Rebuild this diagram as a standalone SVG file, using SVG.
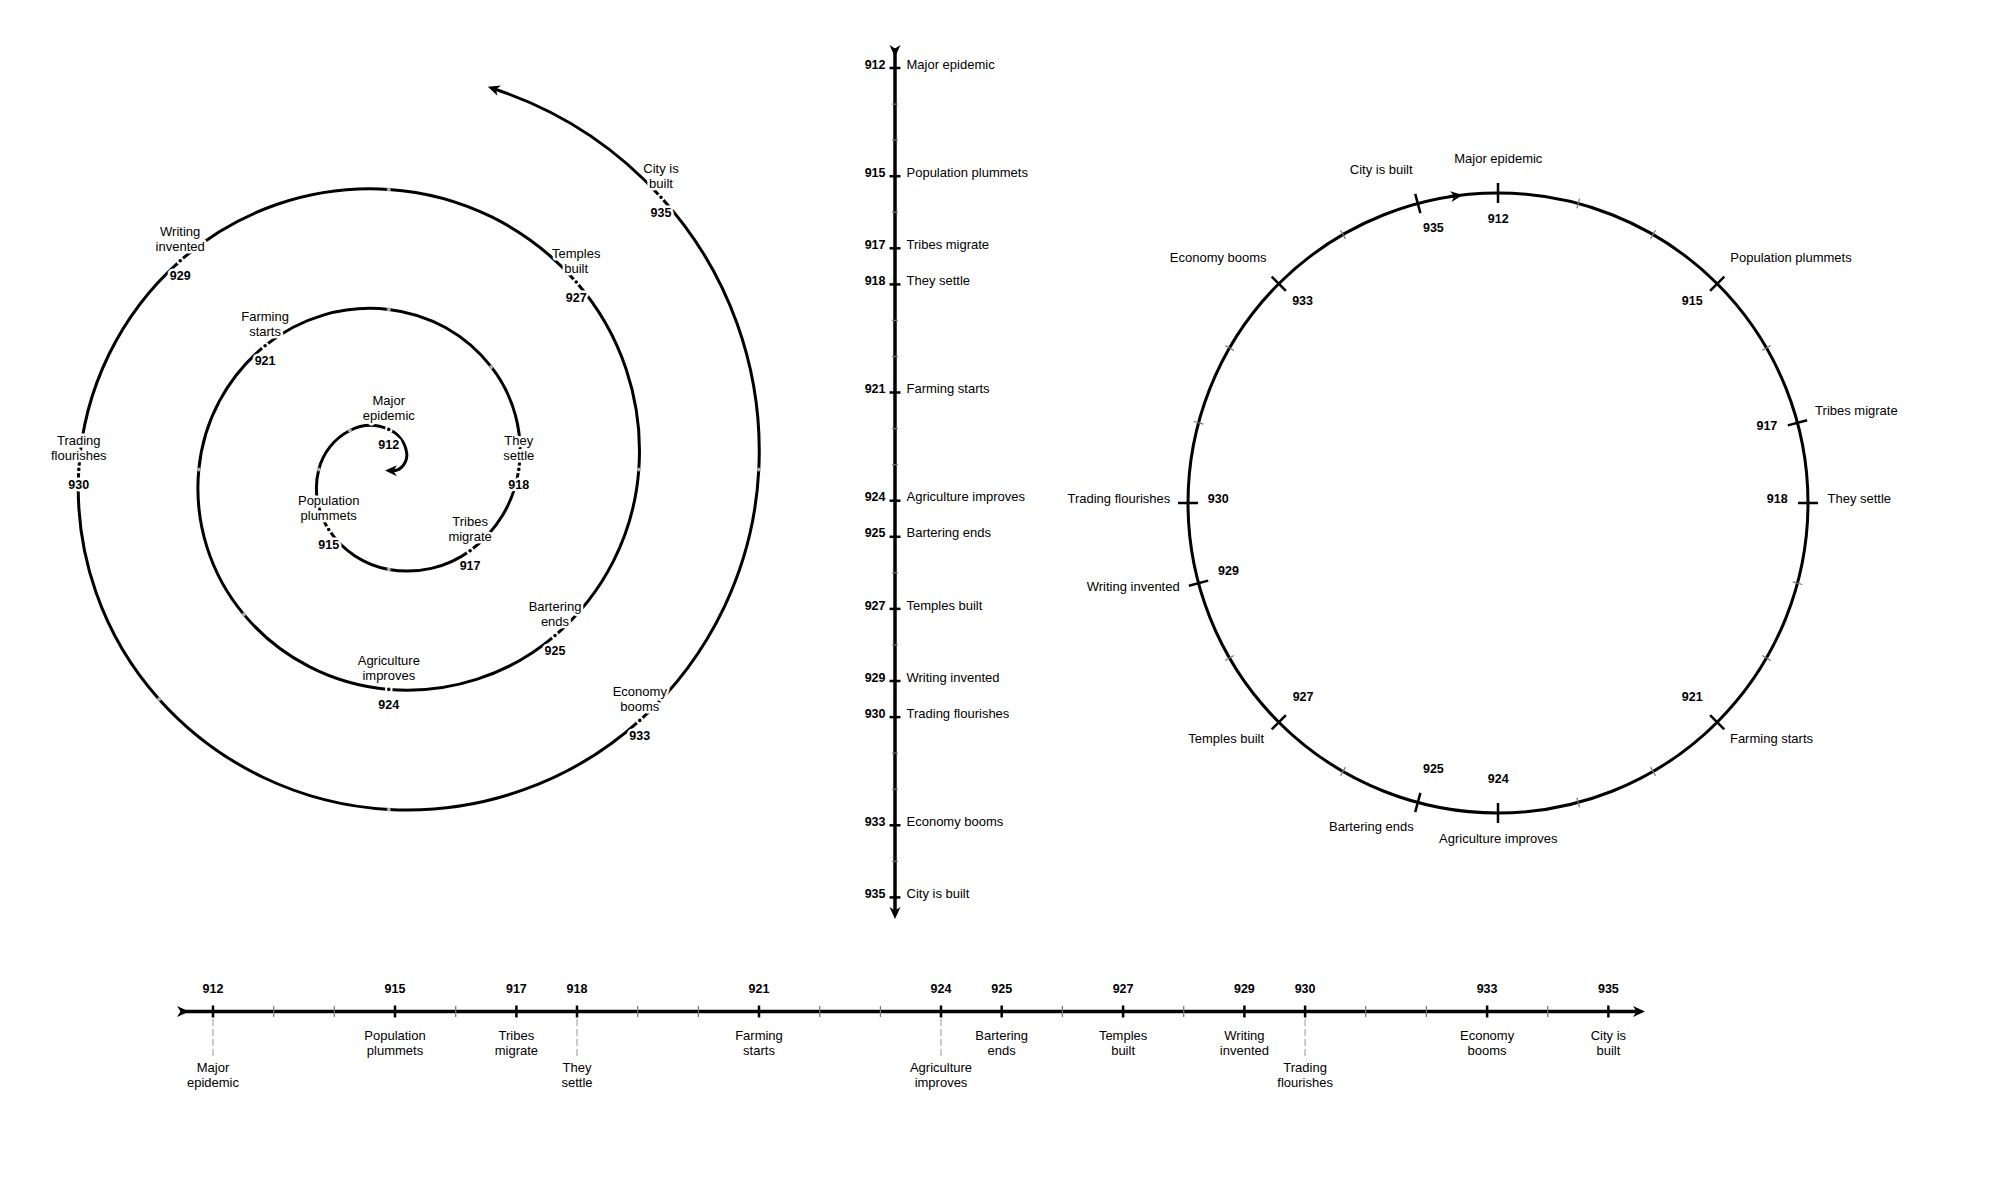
<svg xmlns="http://www.w3.org/2000/svg" width="2000" height="1200" viewBox="0 0 2000 1200">
<defs>
<style>
text { font-family: "Liberation Sans", Arial, Helvetica, sans-serif; fill: #000; }
.ev { font-size: 13px; }
.yr { font-size: 12.5px; font-weight: bold; }
.mid { text-anchor: middle; }
.end { text-anchor: end; }
.halo { paint-order: stroke; stroke: #fff; stroke-width: 5px; stroke-linejoin: round; }
.axis { fill: none; stroke: #000; stroke-width: 3.5; }
.line { fill: none; stroke: #000; stroke-width: 3; }
.major { stroke: #000; stroke-width: 2.5; }
.minor { stroke: #777; stroke-width: 1.2; }
.dash { stroke: #bbb; stroke-width: 1.5; stroke-dasharray: 7 3; }
.dot { fill: #000; stroke: #fff; stroke-width: 2; }
.mdot { fill: #aaa; }
</style>
<marker id="head" viewBox="0 0 12 12" refX="3.5" refY="6" markerWidth="12" markerHeight="12" markerUnits="userSpaceOnUse" orient="auto"><path d="M0,0.5 L12,6 L0,11.5 L3.5,6 z" fill="#000"/></marker>
<marker id="headrev" viewBox="0 0 12 12" refX="8.5" refY="6" markerWidth="12" markerHeight="12" markerUnits="userSpaceOnUse" orient="auto"><path d="M12,0.5 L0,6 L12,11.5 L8.5,6 z" fill="#000"/></marker>
</defs>
<rect width="2000" height="1200" fill="#fff"/>

<g id="connectors">
<path id="spiral-line" class="line" marker-start="url(#headrev)" marker-end="url(#head)" d="M393.4,470.7 A11,11 0 0 0 398.8,469.4 A16.8,16.8 0 0 0 406.5,451.7 A30,30 0 0 0 388.8,429.4 A45,45 0 0 0 349.9,430.5 A60.2,60.2 0 0 0 318.8,469.4 A75.5,75.5 0 0 0 328.7,529.5 A90.5,90.5 0 0 0 388.8,569.4 A105.8,105.8 0 0 0 470.1,550.7 A121,121 0 0 0 518.8,469.4 A136.2,136.2 0 0 0 491.3,366.9 A151.3,151.3 0 0 0 388.8,309.4 A166.4,166.4 0 0 0 265.1,345.7 A181.5,181.5 0 0 0 198.8,469.4 A196.6,196.6 0 0 0 243.8,614.4 A211.6,211.6 0 0 0 388.8,689.4 A226.7,226.7 0 0 0 555.0,635.6 A241.8,241.8 0 0 0 638.8,469.4 A256.8,256.8 0 0 0 576.2,282.0 A271.8,271.8 0 0 0 388.8,189.4 A286.9,286.9 0 0 0 180.2,260.8 A301.9,301.9 0 0 0 78.8,469.4 A316.9,316.9 0 0 0 159.0,699.2 A332,332 0 0 0 388.8,809.4 A347,347 0 0 0 639.8,720.4 A362,362 0 0 0 758.8,469.4 A377,377 0 0 0 661.0,197.2 A389.4,389.4 0 0 0 495.9,89.5"/>
<path id="vertical-axis" class="axis" marker-start="url(#head)" marker-end="url(#head)" d="M895,48.5 L895,910.5"/>
<path id="horizontal-axis" class="axis" marker-start="url(#head)" marker-end="url(#head)" d="M180.5,1011.5 L1636.5,1011.5"/>
<circle id="circle-line" class="line" cx="1498" cy="503" r="310"/>
<path id="circle-arrow" class="line" marker-end="url(#head)" d="M1449.5,196.8 A310,310 0 0 1 1454.3,196.1"/>
</g>

<g id="spiral-minor">
<circle class="mdot" cx="349.9" cy="430.5" r="2"/>
<circle class="mdot" cx="318.8" cy="469.4" r="2"/>
<circle class="mdot" cx="388.8" cy="569.4" r="2"/>
<circle class="mdot" cx="491.3" cy="366.9" r="2"/>
<circle class="mdot" cx="388.8" cy="309.4" r="2"/>
<circle class="mdot" cx="198.8" cy="469.4" r="2"/>
<circle class="mdot" cx="243.8" cy="614.4" r="2"/>
<circle class="mdot" cx="638.8" cy="469.4" r="2"/>
<circle class="mdot" cx="388.8" cy="189.4" r="2"/>
<circle class="mdot" cx="159.0" cy="699.2" r="2"/>
<circle class="mdot" cx="388.8" cy="809.4" r="2"/>
<circle class="mdot" cx="758.8" cy="469.4" r="2"/>
</g>

<g id="spiral-events">
<g id="spiral-912"><circle class="dot" cx="388.8" cy="429.4" r="2.8"/><text class="ev mid halo" x="388.8" y="404.9">Major</text><text class="ev mid halo" x="388.8" y="419.9">epidemic</text><text class="yr mid halo" x="388.8" y="448.9">912</text></g>
<g id="spiral-915"><circle class="dot" cx="328.7" cy="529.5" r="2.8"/><text class="ev mid halo" x="328.7" y="505">Population</text><text class="ev mid halo" x="328.7" y="520">plummets</text><text class="yr mid halo" x="328.7" y="549">915</text></g>
<g id="spiral-917"><circle class="dot" cx="470.1" cy="550.7" r="2.8"/><text class="ev mid halo" x="470.1" y="526.2">Tribes</text><text class="ev mid halo" x="470.1" y="541.2">migrate</text><text class="yr mid halo" x="470.1" y="570.2">917</text></g>
<g id="spiral-918"><circle class="dot" cx="518.8" cy="469.4" r="2.8"/><text class="ev mid halo" x="518.8" y="444.9">They</text><text class="ev mid halo" x="518.8" y="459.9">settle</text><text class="yr mid halo" x="518.8" y="488.9">918</text></g>
<g id="spiral-921"><circle class="dot" cx="265.1" cy="345.7" r="2.8"/><text class="ev mid halo" x="265.1" y="321.2">Farming</text><text class="ev mid halo" x="265.1" y="336.2">starts</text><text class="yr mid halo" x="265.1" y="365.2">921</text></g>
<g id="spiral-924"><circle class="dot" cx="388.8" cy="689.4" r="2.8"/><text class="ev mid halo" x="388.8" y="664.9">Agriculture</text><text class="ev mid halo" x="388.8" y="679.9">improves</text><text class="yr mid halo" x="388.8" y="708.9">924</text></g>
<g id="spiral-925"><circle class="dot" cx="555.0" cy="635.6" r="2.8"/><text class="ev mid halo" x="555.0" y="611.1">Bartering</text><text class="ev mid halo" x="555.0" y="626.1">ends</text><text class="yr mid halo" x="555.0" y="655.1">925</text></g>
<g id="spiral-927"><circle class="dot" cx="576.2" cy="282.0" r="2.8"/><text class="ev mid halo" x="576.2" y="257.5">Temples</text><text class="ev mid halo" x="576.2" y="272.5">built</text><text class="yr mid halo" x="576.2" y="301.5">927</text></g>
<g id="spiral-929"><circle class="dot" cx="180.2" cy="260.8" r="2.8"/><text class="ev mid halo" x="180.2" y="236.3">Writing</text><text class="ev mid halo" x="180.2" y="251.3">invented</text><text class="yr mid halo" x="180.2" y="280.3">929</text></g>
<g id="spiral-930"><circle class="dot" cx="78.8" cy="469.4" r="2.8"/><text class="ev mid halo" x="78.8" y="444.9">Trading</text><text class="ev mid halo" x="78.8" y="459.9">flourishes</text><text class="yr mid halo" x="78.8" y="488.9">930</text></g>
<g id="spiral-933"><circle class="dot" cx="639.8" cy="720.4" r="2.8"/><text class="ev mid halo" x="639.8" y="695.9">Economy</text><text class="ev mid halo" x="639.8" y="710.9">booms</text><text class="yr mid halo" x="639.8" y="739.9">933</text></g>
<g id="spiral-935"><circle class="dot" cx="661.0" cy="197.2" r="2.8"/><text class="ev mid halo" x="661.0" y="172.7">City is</text><text class="ev mid halo" x="661.0" y="187.7">built</text><text class="yr mid halo" x="661.0" y="216.7">935</text></g>
</g>

<g id="vertical-minor">
<line class="minor" x1="892" y1="104.1" x2="898" y2="104.1"/>
<line class="minor" x1="892" y1="140.1" x2="898" y2="140.1"/>
<line class="minor" x1="892" y1="212.2" x2="898" y2="212.2"/>
<line class="minor" x1="892" y1="320.4" x2="898" y2="320.4"/>
<line class="minor" x1="892" y1="356.5" x2="898" y2="356.5"/>
<line class="minor" x1="892" y1="428.6" x2="898" y2="428.6"/>
<line class="minor" x1="892" y1="464.7" x2="898" y2="464.7"/>
<line class="minor" x1="892" y1="572.8" x2="898" y2="572.8"/>
<line class="minor" x1="892" y1="645.0" x2="898" y2="645.0"/>
<line class="minor" x1="892" y1="753.1" x2="898" y2="753.1"/>
<line class="minor" x1="892" y1="789.2" x2="898" y2="789.2"/>
<line class="minor" x1="892" y1="861.3" x2="898" y2="861.3"/>
</g>
<g id="vertical-events">
<g id="v-912"><line class="major" x1="889.5" y1="68.0" x2="900.5" y2="68.0"/><text class="yr end" x="885.5" y="68.6">912</text><text class="ev" x="906.5" y="68.6">Major epidemic</text></g>
<g id="v-915"><line class="major" x1="889.5" y1="176.2" x2="900.5" y2="176.2"/><text class="yr end" x="885.5" y="176.8">915</text><text class="ev" x="906.5" y="176.8">Population plummets</text></g>
<g id="v-917"><line class="major" x1="889.5" y1="248.3" x2="900.5" y2="248.3"/><text class="yr end" x="885.5" y="248.9">917</text><text class="ev" x="906.5" y="248.9">Tribes migrate</text></g>
<g id="v-918"><line class="major" x1="889.5" y1="284.4" x2="900.5" y2="284.4"/><text class="yr end" x="885.5" y="285">918</text><text class="ev" x="906.5" y="285">They settle</text></g>
<g id="v-921"><line class="major" x1="889.5" y1="392.5" x2="900.5" y2="392.5"/><text class="yr end" x="885.5" y="393.1">921</text><text class="ev" x="906.5" y="393.1">Farming starts</text></g>
<g id="v-924"><line class="major" x1="889.5" y1="500.7" x2="900.5" y2="500.7"/><text class="yr end" x="885.5" y="501.3">924</text><text class="ev" x="906.5" y="501.3">Agriculture improves</text></g>
<g id="v-925"><line class="major" x1="889.5" y1="536.8" x2="900.5" y2="536.8"/><text class="yr end" x="885.5" y="537.4">925</text><text class="ev" x="906.5" y="537.4">Bartering ends</text></g>
<g id="v-927"><line class="major" x1="889.5" y1="608.9" x2="900.5" y2="608.9"/><text class="yr end" x="885.5" y="609.5">927</text><text class="ev" x="906.5" y="609.5">Temples built</text></g>
<g id="v-929"><line class="major" x1="889.5" y1="681.0" x2="900.5" y2="681.0"/><text class="yr end" x="885.5" y="681.6">929</text><text class="ev" x="906.5" y="681.6">Writing invented</text></g>
<g id="v-930"><line class="major" x1="889.5" y1="717.1" x2="900.5" y2="717.1"/><text class="yr end" x="885.5" y="717.7">930</text><text class="ev" x="906.5" y="717.7">Trading flourishes</text></g>
<g id="v-933"><line class="major" x1="889.5" y1="825.3" x2="900.5" y2="825.3"/><text class="yr end" x="885.5" y="825.9">933</text><text class="ev" x="906.5" y="825.9">Economy booms</text></g>
<g id="v-935"><line class="major" x1="889.5" y1="897.4" x2="900.5" y2="897.4"/><text class="yr end" x="885.5" y="898">935</text><text class="ev" x="906.5" y="898">City is built</text></g>
</g>

<g id="horizontal-minor">
<line class="minor" x1="273.7" y1="1006" x2="273.7" y2="1017"/>
<line class="minor" x1="334.3" y1="1006" x2="334.3" y2="1017"/>
<line class="minor" x1="455.7" y1="1006" x2="455.7" y2="1017"/>
<line class="minor" x1="637.7" y1="1006" x2="637.7" y2="1017"/>
<line class="minor" x1="698.4" y1="1006" x2="698.4" y2="1017"/>
<line class="minor" x1="819.7" y1="1006" x2="819.7" y2="1017"/>
<line class="minor" x1="880.4" y1="1006" x2="880.4" y2="1017"/>
<line class="minor" x1="1062.4" y1="1006" x2="1062.4" y2="1017"/>
<line class="minor" x1="1183.7" y1="1006" x2="1183.7" y2="1017"/>
<line class="minor" x1="1365.7" y1="1006" x2="1365.7" y2="1017"/>
<line class="minor" x1="1426.4" y1="1006" x2="1426.4" y2="1017"/>
<line class="minor" x1="1547.7" y1="1006" x2="1547.7" y2="1017"/>
</g>
<g id="horizontal-events">
<g id="h-912"><line class="major" x1="213.0" y1="1005.5" x2="213.0" y2="1017.5"/><line class="dash" x1="213.0" y1="1019" x2="213.0" y2="1056"/><text class="yr mid" x="213.0" y="992.8">912</text><text class="ev mid" x="213.0" y="1071.5">Major</text><text class="ev mid" x="213.0" y="1086.5">epidemic</text></g>
<g id="h-915"><line class="major" x1="395.0" y1="1005.5" x2="395.0" y2="1017.5"/><text class="yr mid" x="395.0" y="992.8">915</text><text class="ev mid" x="395.0" y="1039.5">Population</text><text class="ev mid" x="395.0" y="1054.5">plummets</text></g>
<g id="h-917"><line class="major" x1="516.4" y1="1005.5" x2="516.4" y2="1017.5"/><text class="yr mid" x="516.4" y="992.8">917</text><text class="ev mid" x="516.4" y="1039.5">Tribes</text><text class="ev mid" x="516.4" y="1054.5">migrate</text></g>
<g id="h-918"><line class="major" x1="577.0" y1="1005.5" x2="577.0" y2="1017.5"/><line class="dash" x1="577.0" y1="1019" x2="577.0" y2="1056"/><text class="yr mid" x="577.0" y="992.8">918</text><text class="ev mid" x="577.0" y="1071.5">They</text><text class="ev mid" x="577.0" y="1086.5">settle</text></g>
<g id="h-921"><line class="major" x1="759.0" y1="1005.5" x2="759.0" y2="1017.5"/><text class="yr mid" x="759.0" y="992.8">921</text><text class="ev mid" x="759.0" y="1039.5">Farming</text><text class="ev mid" x="759.0" y="1054.5">starts</text></g>
<g id="h-924"><line class="major" x1="941.0" y1="1005.5" x2="941.0" y2="1017.5"/><line class="dash" x1="941.0" y1="1019" x2="941.0" y2="1056"/><text class="yr mid" x="941.0" y="992.8">924</text><text class="ev mid" x="941.0" y="1071.5">Agriculture</text><text class="ev mid" x="941.0" y="1086.5">improves</text></g>
<g id="h-925"><line class="major" x1="1001.7" y1="1005.5" x2="1001.7" y2="1017.5"/><text class="yr mid" x="1001.7" y="992.8">925</text><text class="ev mid" x="1001.7" y="1039.5">Bartering</text><text class="ev mid" x="1001.7" y="1054.5">ends</text></g>
<g id="h-927"><line class="major" x1="1123.1" y1="1005.5" x2="1123.1" y2="1017.5"/><text class="yr mid" x="1123.1" y="992.8">927</text><text class="ev mid" x="1123.1" y="1039.5">Temples</text><text class="ev mid" x="1123.1" y="1054.5">built</text></g>
<g id="h-929"><line class="major" x1="1244.4" y1="1005.5" x2="1244.4" y2="1017.5"/><text class="yr mid" x="1244.4" y="992.8">929</text><text class="ev mid" x="1244.4" y="1039.5">Writing</text><text class="ev mid" x="1244.4" y="1054.5">invented</text></g>
<g id="h-930"><line class="major" x1="1305.1" y1="1005.5" x2="1305.1" y2="1017.5"/><line class="dash" x1="1305.1" y1="1019" x2="1305.1" y2="1056"/><text class="yr mid" x="1305.1" y="992.8">930</text><text class="ev mid" x="1305.1" y="1071.5">Trading</text><text class="ev mid" x="1305.1" y="1086.5">flourishes</text></g>
<g id="h-933"><line class="major" x1="1487.1" y1="1005.5" x2="1487.1" y2="1017.5"/><text class="yr mid" x="1487.1" y="992.8">933</text><text class="ev mid" x="1487.1" y="1039.5">Economy</text><text class="ev mid" x="1487.1" y="1054.5">booms</text></g>
<g id="h-935"><line class="major" x1="1608.4" y1="1005.5" x2="1608.4" y2="1017.5"/><text class="yr mid" x="1608.4" y="992.8">935</text><text class="ev mid" x="1608.4" y="1039.5">City is</text><text class="ev mid" x="1608.4" y="1054.5">built</text></g>
</g>

<g id="circle-minor">
<line class="minor" x1="1576.9" y1="208.4" x2="1579.5" y2="198.7"/>
<line class="minor" x1="1650.5" y1="238.9" x2="1655.5" y2="230.2"/>
<line class="minor" x1="1762.1" y1="350.5" x2="1770.8" y2="345.5"/>
<line class="minor" x1="1792.6" y1="581.9" x2="1802.3" y2="584.5"/>
<line class="minor" x1="1762.1" y1="655.5" x2="1770.8" y2="660.5"/>
<line class="minor" x1="1650.5" y1="767.1" x2="1655.5" y2="775.8"/>
<line class="minor" x1="1576.9" y1="797.6" x2="1579.5" y2="807.3"/>
<line class="minor" x1="1345.5" y1="767.1" x2="1340.5" y2="775.8"/>
<line class="minor" x1="1233.9" y1="655.5" x2="1225.2" y2="660.5"/>
<line class="minor" x1="1203.4" y1="424.1" x2="1193.7" y2="421.5"/>
<line class="minor" x1="1233.9" y1="350.5" x2="1225.2" y2="345.5"/>
<line class="minor" x1="1345.5" y1="238.9" x2="1340.5" y2="230.2"/>
</g>
<g id="circle-events">
<g id="c-912"><line class="major" x1="1498" y1="203" x2="1498" y2="183"/><text class="yr mid" x="1498.3" y="223">912</text><text class="ev mid" x="1498.3" y="163.4">Major epidemic</text></g>
<g id="c-915"><line class="major" x1="1710.1" y1="290.9" x2="1724.3" y2="276.7"/><text class="yr mid" x="1692.3" y="305.4">915</text><text class="ev mid" x="1791" y="262.1">Population plummets</text></g>
<g id="c-917"><line class="major" x1="1787.8" y1="425.4" x2="1807.1" y2="420.2"/><text class="yr mid" x="1766.9" y="429.7">917</text><text class="ev mid" x="1856.4" y="414.8">Tribes migrate</text></g>
<g id="c-918"><line class="major" x1="1798" y1="503" x2="1818" y2="503"/><text class="yr mid" x="1777.2" y="503.2">918</text><text class="ev mid" x="1859.3" y="503.2">They settle</text></g>
<g id="c-921"><line class="major" x1="1710.1" y1="715.1" x2="1724.3" y2="729.3"/><text class="yr mid" x="1692.3" y="701.1">921</text><text class="ev mid" x="1771.5" y="743">Farming starts</text></g>
<g id="c-924"><line class="major" x1="1498" y1="803" x2="1498" y2="823"/><text class="yr mid" x="1498.3" y="783">924</text><text class="ev mid" x="1498.3" y="842.6">Agriculture improves</text></g>
<g id="c-925"><line class="major" x1="1420.4" y1="792.8" x2="1415.2" y2="812.1"/><text class="yr mid" x="1433.4" y="772.8">925</text><text class="ev mid" x="1371.4" y="831">Bartering ends</text></g>
<g id="c-927"><line class="major" x1="1285.9" y1="715.1" x2="1271.7" y2="729.3"/><text class="yr mid" x="1303.1" y="701.1">927</text><text class="ev mid" x="1226.2" y="743">Temples built</text></g>
<g id="c-929"><line class="major" x1="1208.2" y1="580.6" x2="1188.9" y2="585.8"/><text class="yr mid" x="1228.5" y="574.9">929</text><text class="ev mid" x="1133.2" y="590.7">Writing invented</text></g>
<g id="c-930"><line class="major" x1="1198" y1="503" x2="1178" y2="503"/><text class="yr mid" x="1218.2" y="503.2">930</text><text class="ev mid" x="1118.9" y="503.2">Trading flourishes</text></g>
<g id="c-933"><line class="major" x1="1285.9" y1="290.9" x2="1271.7" y2="276.7"/><text class="yr mid" x="1302.6" y="305.4">933</text><text class="ev mid" x="1218.2" y="262.1">Economy booms</text></g>
<g id="c-935"><line class="major" x1="1420.4" y1="213.2" x2="1415.2" y2="193.9"/><text class="yr mid" x="1433.4" y="232.3">935</text><text class="ev mid" x="1381.2" y="174.1">City is built</text></g>
</g>
</svg>
